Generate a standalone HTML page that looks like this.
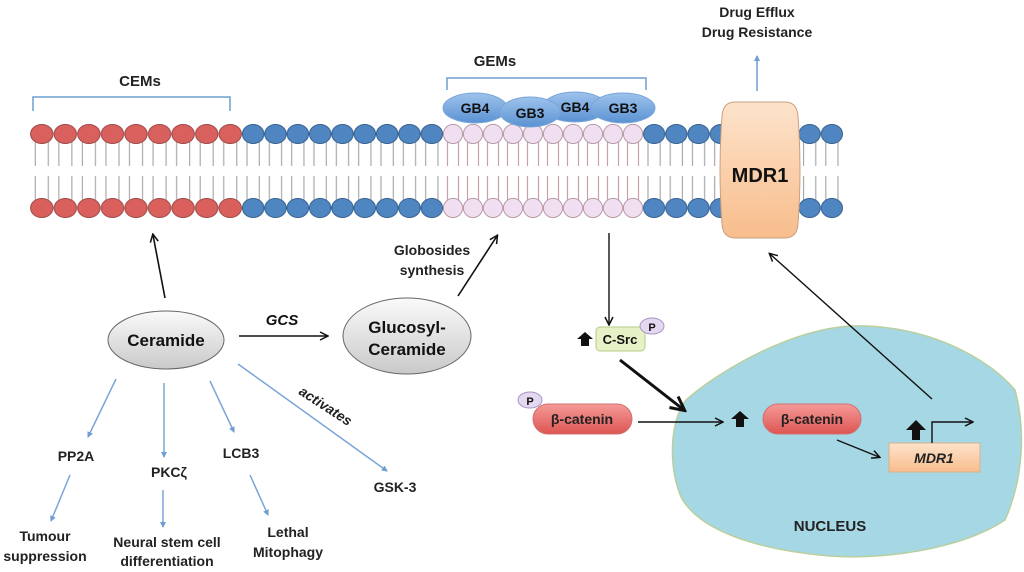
<!DOCTYPE html>
<html><head><meta charset="utf-8"><style>
html,body{margin:0;padding:0;background:#fff;}
svg{display:block;font-family:"Liberation Sans",sans-serif;}
</style></head><body>
<svg width="1024" height="572" viewBox="0 0 1024 572" xmlns="http://www.w3.org/2000/svg">
<defs>
<marker id="ab" markerWidth="10" markerHeight="10" refX="8" refY="5" orient="auto" markerUnits="userSpaceOnUse"><path d="M1,1 L9,5 L1,9" fill="none" stroke="#111" stroke-width="1.5"/></marker>
<marker id="ab2" markerWidth="18" markerHeight="18" refX="15" refY="9" orient="auto" markerUnits="userSpaceOnUse"><path d="M2,2 L16,9 L2,16" fill="none" stroke="#111" stroke-width="3"/></marker>
<marker id="abl" markerWidth="8" markerHeight="8" refX="6" refY="4" orient="auto" markerUnits="userSpaceOnUse"><path d="M1,1 L7,4 L1,7 Z" fill="#6f9fd0"/></marker>
<linearGradient id="gray" x1="0" y1="0" x2="0" y2="1"><stop offset="0" stop-color="#fafafa"/><stop offset="1" stop-color="#c9c9c9"/></linearGradient>
<linearGradient id="red" x1="0" y1="0" x2="0" y2="1"><stop offset="0" stop-color="#f59a98"/><stop offset="1" stop-color="#dd5552"/></linearGradient>
<linearGradient id="peach" x1="0" y1="0" x2="0" y2="1"><stop offset="0" stop-color="#fde3cc"/><stop offset="1" stop-color="#f8bd8c"/></linearGradient>
<linearGradient id="gb" x1="0" y1="0" x2="0" y2="1"><stop offset="0" stop-color="#9ec3ec"/><stop offset="1" stop-color="#5b92d3"/></linearGradient>

<pattern id="pr" patternUnits="userSpaceOnUse" x="30" y="0" width="23.556" height="572">
 <g stroke="#aaa" stroke-width="1.2"><line x1="5.3" y1="142" x2="5.3" y2="166"/><line x1="18.3" y1="142" x2="18.3" y2="166"/><line x1="5.3" y1="176" x2="5.3" y2="200"/><line x1="18.3" y1="176" x2="18.3" y2="200"/></g>
 <ellipse cx="11.778" cy="134" rx="11.2" ry="9.5" fill="#d9605c" stroke="#9a4a48"/>
 <ellipse cx="11.778" cy="208" rx="11.2" ry="9.5" fill="#d9605c" stroke="#9a4a48"/>
</pattern>
<pattern id="pb" patternUnits="userSpaceOnUse" x="242" y="0" width="22.333" height="572">
 <g stroke="#aaa" stroke-width="1.2"><line x1="5" y1="142" x2="5" y2="166"/><line x1="17.3" y1="142" x2="17.3" y2="166"/><line x1="5" y1="176" x2="5" y2="200"/><line x1="17.3" y1="176" x2="17.3" y2="200"/></g>
 <ellipse cx="11.167" cy="134" rx="10.7" ry="9.5" fill="#4f86c1" stroke="#35608f"/>
 <ellipse cx="11.167" cy="208" rx="10.7" ry="9.5" fill="#4f86c1" stroke="#35608f"/>
</pattern>
<pattern id="pb2" patternUnits="userSpaceOnUse" x="643" y="0" width="22.222" height="572">
 <g stroke="#aaa" stroke-width="1.2"><line x1="5" y1="142" x2="5" y2="166"/><line x1="17.2" y1="142" x2="17.2" y2="166"/><line x1="5" y1="176" x2="5" y2="200"/><line x1="17.2" y1="176" x2="17.2" y2="200"/></g>
 <ellipse cx="11.111" cy="134" rx="10.6" ry="9.5" fill="#4f86c1" stroke="#35608f"/>
 <ellipse cx="11.111" cy="208" rx="10.6" ry="9.5" fill="#4f86c1" stroke="#35608f"/>
</pattern>
<pattern id="pp" patternUnits="userSpaceOnUse" x="443" y="0" width="20" height="572">
 <g stroke="#c9a0a8" stroke-width="1.2"><line x1="4.5" y1="142" x2="4.5" y2="166"/><line x1="15.5" y1="142" x2="15.5" y2="166"/><line x1="4.5" y1="176" x2="4.5" y2="200"/><line x1="15.5" y1="176" x2="15.5" y2="200"/></g>
 <ellipse cx="10" cy="134" rx="9.6" ry="9.6" fill="#efdff0" stroke="#b99aa8"/>
 <ellipse cx="10" cy="208" rx="9.6" ry="9.6" fill="#efdff0" stroke="#b99aa8"/>
</pattern>
</defs>

<!-- membrane -->
<rect x="30" y="120" width="212" height="100" fill="url(#pr)"/>
<rect x="242" y="120" width="201" height="100" fill="url(#pb)"/>
<rect x="443" y="120" width="200" height="100" fill="url(#pp)"/>
<rect x="643" y="120" width="200" height="100" fill="url(#pb2)"/>

<!-- brackets -->
<path d="M33,111 V97 H230 V111" fill="none" stroke="#6f9fd0" stroke-width="1.5"/>
<text x="140" y="86" font-size="15" font-weight="bold" text-anchor="middle" fill="#222">CEMs</text>
<path d="M447,90 V78 H646 V90" fill="none" stroke="#6f9fd0" stroke-width="1.5"/>
<text x="495" y="66" font-size="15" font-weight="bold" text-anchor="middle" fill="#222">GEMs</text>

<!-- GB ellipses -->
<g stroke="#7aa5d8" stroke-width="1" fill="url(#gb)">
<ellipse cx="475" cy="108" rx="32" ry="15"/>
<ellipse cx="575" cy="107" rx="32" ry="15"/>
<ellipse cx="530" cy="112" rx="30" ry="15"/>
<ellipse cx="623" cy="108" rx="32" ry="15"/>
</g>
<g font-size="14" font-weight="bold" fill="#111" text-anchor="middle">
<text x="475" y="113">GB4</text><text x="530" y="118">GB3</text><text x="575" y="112">GB4</text><text x="623" y="113">GB3</text>
</g>

<!-- MDR1 protein -->
<path d="M735,102 H785 Q797,102 798,116 Q802,170 798,224 Q797,238 785,238 H735 Q723,238 722,224 Q718,170 722,116 Q723,102 735,102 Z" fill="url(#peach)" stroke="#c8a080" stroke-width="1"/>
<text x="760" y="182" font-size="20" font-weight="bold" text-anchor="middle" fill="#111">MDR1</text>
<line x1="757" y1="91" x2="757" y2="56" stroke="#6f9fd0" stroke-width="1.5" marker-end="url(#abl)"/>
<g font-size="14" font-weight="bold" text-anchor="middle" fill="#222">
<text x="757" y="17">Drug Efflux</text><text x="757" y="37">Drug Resistance</text></g>

<!-- Ceramide area -->
<line x1="165" y1="298" x2="153" y2="235" stroke="#111" stroke-width="1.6" marker-end="url(#ab)"/>
<ellipse cx="166" cy="340" rx="58" ry="29" fill="url(#gray)" stroke="#666"/>
<text x="166" y="346" font-size="17" font-weight="bold" text-anchor="middle" fill="#111">Ceramide</text>
<text x="282" y="325" font-size="15" font-weight="bold" font-style="italic" text-anchor="middle" fill="#111">GCS</text>
<line x1="239" y1="336" x2="327" y2="336" stroke="#111" stroke-width="1.6" marker-end="url(#ab)"/>
<ellipse cx="407" cy="336" rx="64" ry="38" fill="url(#gray)" stroke="#666"/>
<g font-size="17" font-weight="bold" text-anchor="middle" fill="#111"><text x="407" y="333">Glucosyl-</text><text x="407" y="355">Ceramide</text></g>
<line x1="458" y1="296" x2="497" y2="236" stroke="#111" stroke-width="1.6" marker-end="url(#ab)"/>
<g font-size="14" font-weight="bold" text-anchor="middle" fill="#222"><text x="432" y="255">Globosides</text><text x="432" y="275">synthesis</text></g>

<g stroke="#7aa5d8" stroke-width="1.5" marker-end="url(#abl)">
<line x1="116" y1="379" x2="88" y2="437"/>
<line x1="164" y1="383" x2="164" y2="457"/>
<line x1="210" y1="381" x2="234" y2="432"/>
<line x1="238" y1="364" x2="387" y2="471"/>
<line x1="70" y1="475" x2="51" y2="521"/>
<line x1="163" y1="490" x2="163" y2="527"/>
<line x1="250" y1="475" x2="268" y2="515"/>
</g>
<text x="0" y="0" font-size="14" font-weight="bold" font-style="italic" fill="#222" text-anchor="middle" transform="translate(323,410) rotate(33)">activates</text>
<g font-size="14" font-weight="bold" text-anchor="middle" fill="#222">
<text x="76" y="461">PP2A</text>
<text x="169" y="477">PKCζ</text>
<text x="241" y="458">LCB3</text>
<text x="395" y="492">GSK-3</text>
<text x="45" y="541">Tumour</text><text x="45" y="561">suppression</text>
<text x="167" y="547">Neural stem cell</text><text x="167" y="566">differentiation</text>
<text x="288" y="537">Lethal</text><text x="288" y="557">Mitophagy</text>
</g>

<!-- Nucleus -->
<path d="M686,400 C720,370 790,330 850,326 C930,324 990,360 1015,390 C1026,430 1023,480 1005,520 C960,550 880,560 830,556 C760,550 700,532 681,497 C668,465 670,420 686,400 Z" fill="#a6d7e4" stroke="#b9cf9e" stroke-width="1.5"/>
<text x="830" y="531" font-size="15" font-weight="bold" text-anchor="middle" fill="#222">NUCLEUS</text>

<!-- C-Src -->
<line x1="609" y1="233" x2="609" y2="324" stroke="#111" stroke-width="1.4" marker-end="url(#ab)"/>
<rect x="596" y="327" width="49" height="24" rx="4" fill="#e6f2c6" stroke="#b5c98a"/>
<text x="620" y="344" font-size="13" font-weight="bold" text-anchor="middle" fill="#111">C-Src</text>
<ellipse cx="652" cy="326" rx="12" ry="8" fill="#e3d8f0" stroke="#a796c4"/>
<text x="652" y="331" font-size="11" font-weight="bold" text-anchor="middle" fill="#111">P</text>
<path d="M585,332 L593,339 H589 V346 H581 V339 H577 Z" fill="#111"/>
<line x1="620" y1="360" x2="684" y2="410" stroke="#111" stroke-width="3" marker-end="url(#ab2)"/>

<!-- beta catenin -->
<ellipse cx="530" cy="400" rx="12" ry="8" fill="#e3d8f0" stroke="#a796c4"/>
<text x="530" y="405" font-size="11" font-weight="bold" text-anchor="middle" fill="#111">P</text>
<rect x="533" y="404" width="99" height="30" rx="15" fill="url(#red)" stroke="#d07070"/>
<text x="582" y="424" font-size="14" font-weight="bold" text-anchor="middle" fill="#222">β-catenin</text>
<line x1="638" y1="422" x2="722" y2="422" stroke="#111" stroke-width="1.4" marker-end="url(#ab)"/>
<path d="M740,411 L749,419 H744 V427 H736 V419 H731 Z" fill="#111"/>
<rect x="763" y="404" width="98" height="30" rx="15" fill="url(#red)" stroke="#d07070"/>
<text x="812" y="424" font-size="14" font-weight="bold" text-anchor="middle" fill="#222">β-catenin</text>
<line x1="837" y1="440" x2="879" y2="457" stroke="#111" stroke-width="1.4" marker-end="url(#ab)"/>
<rect x="889" y="443" width="91" height="29" fill="url(#peach)" stroke="#d8b08c"/>
<text x="934" y="463" font-size="14" font-weight="bold" font-style="italic" text-anchor="middle" fill="#222">MDR1</text>
<path d="M916,420 L926,430 H920 V440 H912 V430 H906 Z" fill="#111"/>
<path d="M932,443 V422 H972" fill="none" stroke="#111" stroke-width="1.4" marker-end="url(#ab)"/>
<line x1="932" y1="399" x2="770" y2="254" stroke="#111" stroke-width="1.4" marker-end="url(#ab)"/>
</svg>
</body></html>
